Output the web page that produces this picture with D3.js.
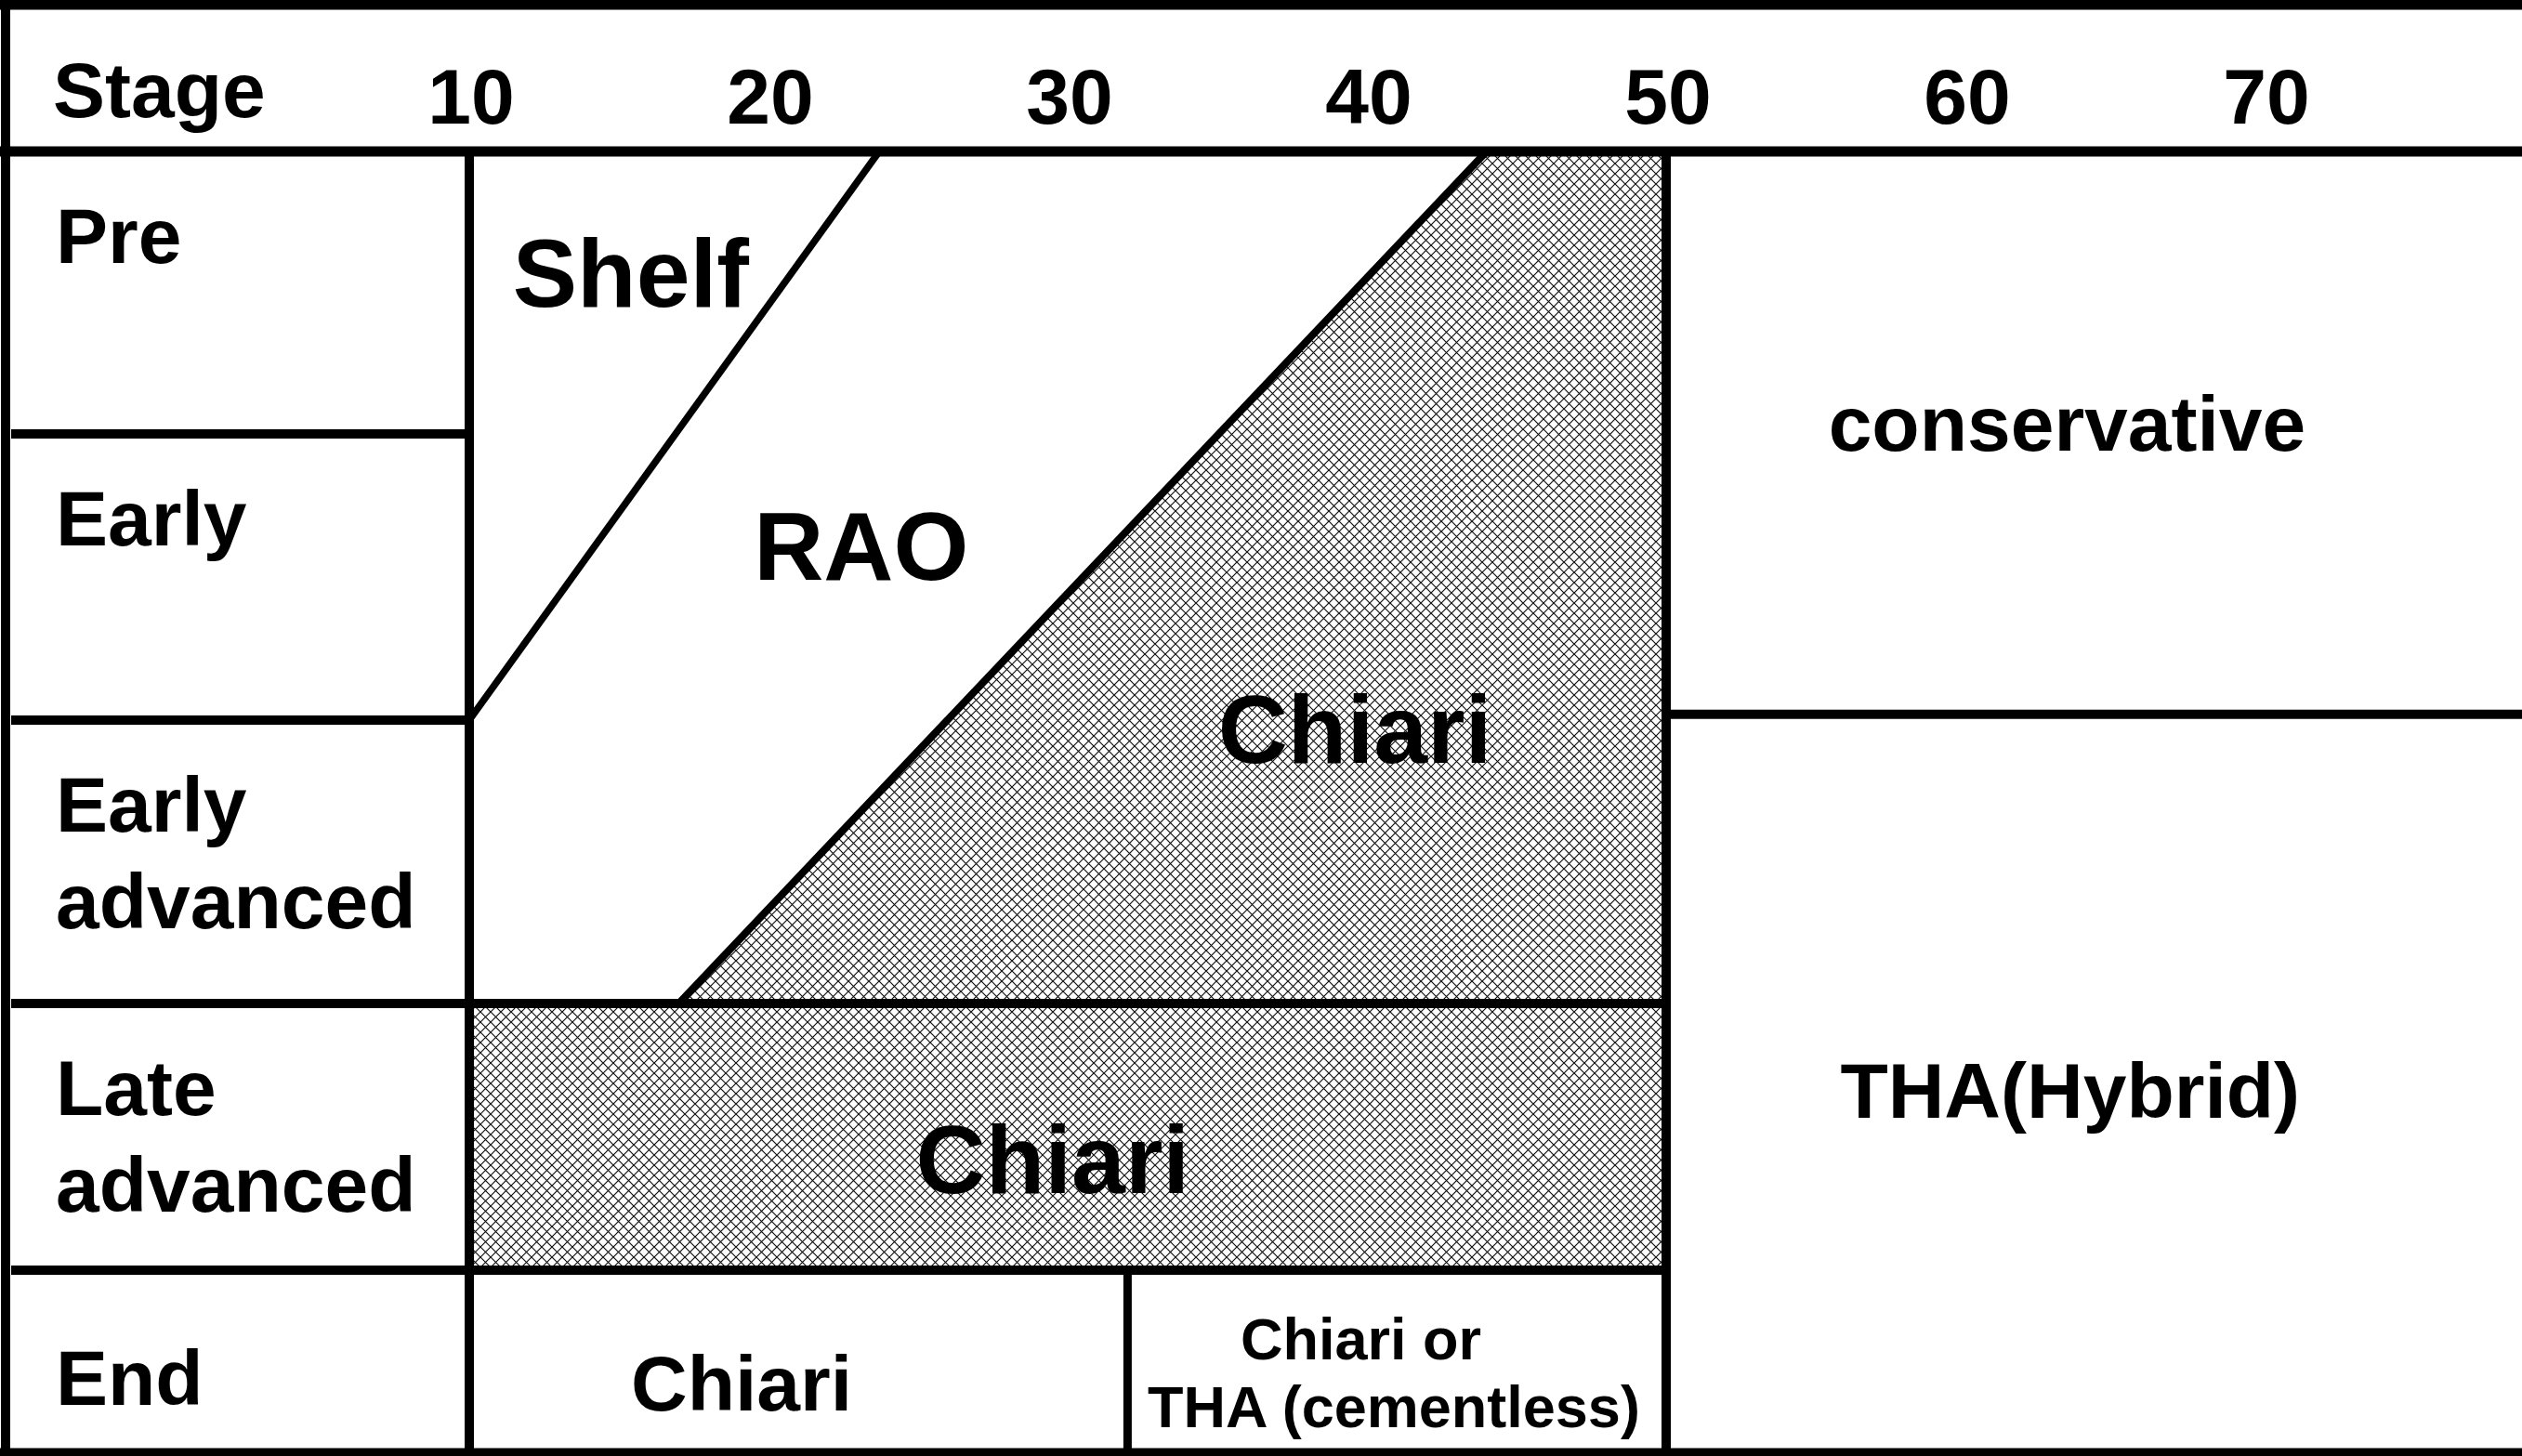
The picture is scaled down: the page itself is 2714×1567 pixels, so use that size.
<!DOCTYPE html>
<html>
<head>
<meta charset="utf-8">
<script src="https://cdn.jsdelivr.net/npm/d3@7"></script>
<style>
  body { margin: 0; background: #fff; }
  text { font-family: "Liberation Sans", Arial, sans-serif; font-weight: bold; fill: #000; }
</style>
</head>
<body>
<script>
//////////////////
// Data
//////////////////

// rows of the table (top to bottom), "\n" = second line
var stages = ["Pre", "Early", "Early\nadvanced", "Late\nadvanced", "End"];

// age ticks along the top
var ageTicks = [10, 20, 30, 40, 50, 60, 70];

// boundaries, as [age, stage boundary]
var shelfRaoLine = [[10, 2], [23.7, 0]];
var chiariWedge = [[17, 3], [44, 0], [50, 0], [50, 3]];
var chiariBand = [[10, 3], [50, 3], [50, 4], [10, 4]];
var endSplitAge = 32;       // End row: Chiari | Chiari or THA
var rightSplitStage = 1.98; // conservative | THA(Hybrid)

var regionNames = ["Shelf", "RAO", "Chiari", "Chiari", "conservative",
    "THA(Hybrid)", "Chiari", "Chiari or", "THA (cementless)"];

////////////////
// Make display!
////////////////

var W = 2714, H = 1567;

var svg = d3.select("body").append("svg")
    .attr("width", W)
    .attr("height", H);

var x = d3.scaleLinear().domain([10, 50]).range([505, 1793]);
// row boundaries are not evenly spaced
var y = d3.scaleLinear().domain([0, 1, 2, 3, 4, 5]).range([163, 467, 775, 1080, 1367, 1563]);

// crosshatch fill
var p = 11;
var pat = svg.append("defs").append("pattern")
    .attr("id", "xhatch")
    .attr("patternUnits", "userSpaceOnUse")
    .attr("width", p)
    .attr("height", p);
pat.append("rect").attr("width", p).attr("height", p).attr("fill", "#fff");
pat.append("path")
    .attr("d", "M-1,-1L" + (p + 1) + "," + (p + 1) + "M" + (p + 1) + ",-1L-1," + (p + 1))
    .attr("stroke", "#111")
    .attr("stroke-width", 1.2);

var line = d3.line()
    .x(function(d) { return x(d[0]); })
    .y(function(d) { return y(d[1]); });

svg.append("path")
    .attr("d", line(chiariBand) + "Z")
    .attr("fill", "url(#xhatch)");

svg.append("path")
    .attr("d", line(chiariWedge) + "Z")
    .attr("fill", "url(#xhatch)");

// diagonals
svg.append("path")
    .attr("d", line(chiariWedge.slice(0, 2)))
    .attr("stroke", "#000")
    .attr("stroke-width", 8)
    .attr("fill", "none");

svg.append("path")
    .attr("d", line(shelfRaoLine))
    .attr("stroke", "#000")
    .attr("stroke-width", 7.5)
    .attr("fill", "none");

// grid
var grid = [
    [0, 5, W, 5, 11],                       // top border
    [6, 0, 6, H, 10],                       // left border
    [0, 1563, W, 1563, 9],                  // bottom border
    [0, y(0), W, y(0), 11],                 // header line
    [x.range()[0], y(0), x.range()[0], H, 10],
    [x(50), y(0), x(50), H, 10],
    [12, y(1), x.range()[0], y(1), 10],
    [12, y(2), x.range()[0], y(2), 10],
    [12, y(3), x(50), y(3), 10],
    [12, y(4), x(50), y(4), 10],
    [x(endSplitAge), y(4), x(endSplitAge), H, 9],
    [x(50), y(rightSplitStage), W, y(rightSplitStage), 10]
];

svg.selectAll("line.grid")
    .data(grid)
  .enter().append("line")
    .attr("class", "grid")
    .attr("x1", function(d) { return d[0]; })
    .attr("y1", function(d) { return d[1]; })
    .attr("x2", function(d) { return d[2]; })
    .attr("y2", function(d) { return d[3]; })
    .attr("stroke", "#000")
    .attr("stroke-width", function(d) { return d[4]; });

// header
svg.append("text")
    .attr("x", 57)
    .attr("y", 126)
    .attr("font-size", 84)
    .text("Stage");

svg.selectAll("text.tick")
    .data(ageTicks)
  .enter().append("text")
    .attr("class", "tick")
    .attr("x", function(d) { return x(d); })
    .attr("dx", 2)
    .attr("y", 133)
    .attr("text-anchor", "middle")
    .attr("font-size", 84)
    .text(function(d) { return d; });

// row labels
stages.forEach(function(s, i) {
    var lines = s.split("\n");
    var top = y(i) + (i == stages.length - 1 ? 145 : 120);
    var t = svg.append("text")
        .attr("x", 60)
        .attr("y", top)
        .attr("font-size", 84);
    lines.forEach(function(l, j) {
        t.append("tspan")
            .attr("x", 60)
            .attr("dy", j == 0 ? 0 : 104)
            .text(l);
    });
});

// where each region name sits (age, stage, font size)
var labelSpots = [
    [15.4, 0.55, 104],
    [23.1, 1.51, 104],
    [39.6, 2.15, 104],
    [29.5, 3.71, 104],
    [63.4, 1.06, 84],
    [63.5, 3.43, 84],
    [19.1, 4.77, 84],
    [39.8, 4.49, 63],
    [40.9, 4.86, 63]
];

svg.selectAll("text.region")
    .data(regionNames)
  .enter().append("text")
    .attr("class", "region")
    .attr("x", function(d, i) { return x(labelSpots[i][0]); })
    .attr("y", function(d, i) { return y(labelSpots[i][1]); })
    .attr("text-anchor", "middle")
    .attr("font-size", function(d, i) { return labelSpots[i][2]; })
    .text(function(d) { return d; });
</script>
</body>
</html>
